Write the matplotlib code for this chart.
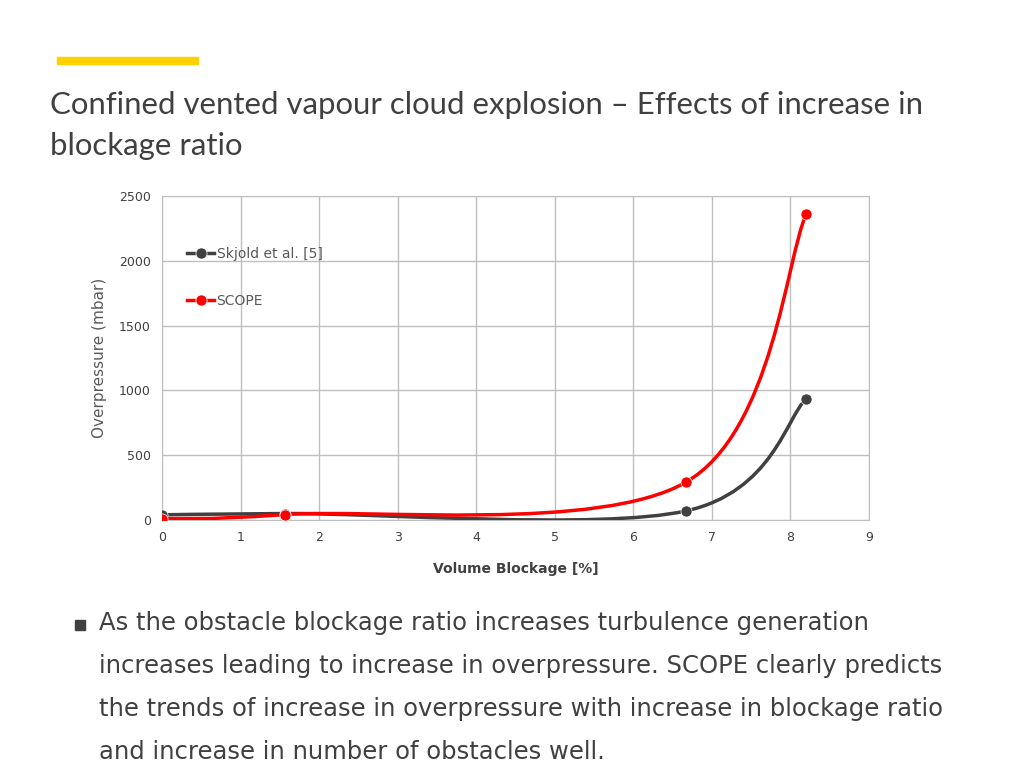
import matplotlib

matplotlib.use("Agg")

import matplotlib.pyplot as plt
from matplotlib.path import Path
from matplotlib.patches import PathPatch, Rectangle

blockage = [0, 1.57, 6.67, 8.2]
skjold = [40, 50, 70, 935]
scope = [10, 42, 292, 2360]

x_ticks = list(range(0, 10))
y_ticks = [0, 500, 1000, 1500, 2000, 2500]

title_lines = ["Confined vented vapour cloud explosion \u2013 Effects of increase in",
               "blockage ratio"]
bullet_lines = ["As the obstacle blockage ratio increases turbulence generation",
                "increases leading to increase in overpressure. SCOPE clearly predicts",
                "the trends of increase in overpressure with increase in blockage ratio",
                "and increase in number of obstacles well."]


def smooth_path(xs, ys):
    # excel-style smoothed line: cubic bezier through the points
    pts = list(zip(xs, ys))
    n = len(pts)
    verts = [pts[0]]
    codes = [Path.MOVETO]
    for i in range(n - 1):
        p0 = pts[i - 1] if i > 0 else pts[i]
        p1 = pts[i]
        p2 = pts[i + 1]
        p3 = pts[i + 2] if i + 2 < n else pts[i + 1]
        c1 = (p1[0] + (p2[0] - p0[0]) / 6, p1[1] + (p2[1] - p0[1]) / 6)
        c2 = (p2[0] - (p3[0] - p1[0]) / 6, p2[1] - (p3[1] - p1[1]) / 6)
        verts += [c1, c2, p2]
        codes += [Path.CURVE4] * 3
    return Path(verts, codes)


fig = plt.figure(figsize=(10.24, 7.68), dpi=100)
fig.patch.set_facecolor("white")

# yellow accent bar
fig.patches.append(Rectangle((57 / 1024, 1 - 64 / 768), 141 / 1024, 7 / 768,
                             transform=fig.transFigure, color="#FFD100", zorder=1))

for i, line in enumerate(title_lines):
    fig.text(50 / 1024, 1 - (105 + 41 * i) / 768, line, fontsize=22.4, family="Lato",
             color="#404040", va="center")

ax = fig.add_axes([162 / 1024, 1 - 520 / 768, 707 / 1024, 324 / 768])

series = [("Skjold et al. [5]", skjold, "#404040"), ("SCOPE", scope, "#FF0000")]
handles = []
for name, vals, col in series:
    ax.add_patch(PathPatch(smooth_path(blockage, vals), fill=False, edgecolor=col,
                           linewidth=2.5, zorder=3))
    ax.plot(blockage, vals, linestyle="none", color=col, marker="o",
            markersize=8, markeredgecolor="white", markeredgewidth=0.5,
            label=name, zorder=4)
    handles.append(plt.Line2D([], [], color=col, linewidth=2.5, marker="o", markersize=8,
                              markeredgecolor="white", markeredgewidth=0.5))

ax.set_xlim(0, 9)
ax.set_ylim(0, 2500)
ax.set_xticks(x_ticks)
ax.set_yticks(y_ticks)
ax.grid(True, color="#BFBFBF", linewidth=1)
ax.set_axisbelow(True)
for s in ax.spines.values():
    s.set_color("#BFBFBF")
ax.tick_params(length=0, labelsize=9, labelcolor="#404040", pad=8)
ax.set_xlabel("Volume Blockage [%]", fontsize=10, fontweight="bold", color="#404040",
              labelpad=13)
ax.set_ylabel("Overpressure (mbar)", fontsize=11, color="#595959", labelpad=9)

ax.legend(handles, [s[0] for s in series], loc="upper left", bbox_to_anchor=(0.027, 0.86),
          frameon=False, fontsize=10, labelcolor="#595959", handlelength=2.0,
          handletextpad=0.15, labelspacing=2.4, borderaxespad=0)

# bullet text
fig.patches.append(Rectangle((75 / 1024, 1 - 630 / 768), 10 / 1024, 10 / 768,
                             transform=fig.transFigure, color="#404040"))
for i, line in enumerate(bullet_lines):
    fig.text(99 / 1024, 1 - (623 + 43 * i) / 768, line, fontsize=17.5,
             family="DejaVu Sans", color="#404040", va="center")

fig.savefig("out.png", dpi=100)
plt.close(fig)
